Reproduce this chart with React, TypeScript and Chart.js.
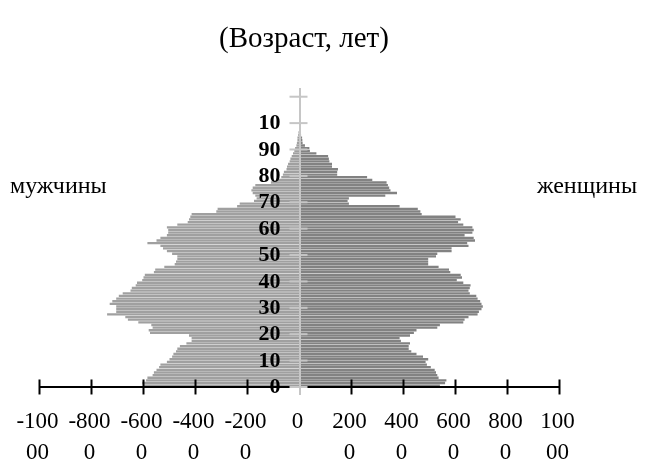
import { useEffect, useRef } from "react";
import { Chart, registerables } from "chart.js";

Chart.register(...registerables);

// возраст (лет), один бар на год
const ages = [
  0, 1, 2, 3, 4, 5, 6, 7, 8, 9, 10, 11, 12, 13, 14, 15, 16, 17, 18, 19, 20, 21,
  22, 23, 24, 25, 26, 27, 28, 29, 30, 31, 32, 33, 34, 35, 36, 37, 38, 39, 40, 41,
  42, 43, 44, 45, 46, 47, 48, 49, 50, 51, 52, 53, 54, 55, 56, 57, 58, 59, 60, 61,
  62, 63, 64, 65, 66, 67, 68, 69, 70, 71, 72, 73, 74, 75, 76, 77, 78, 79, 80, 81,
  82, 83, 84, 85, 86, 87, 88, 89, 90, 91, 92, 93, 94, 95, 96,
];

const maleValues = [
  -6000, -6050, -5900, -5850, -5650, -5600, -5500, -5400, -5350, -5100, -5000,
  -4900, -4850, -4750, -4700, -4600, -4350, -4150, -4150, -4250, -5750, -5800,
  -5650, -5700, -6200, -6600, -6700, -7400, -7050, -7050, -7050, -7300, -7200,
  -7050, -6950, -6800, -6500, -6450, -6300, -6250, -6050, -6000, -5950, -5600,
  -5550, -5200, -4800, -4750, -4700, -4700, -4900, -5100, -5250, -5350, -5850,
  -5500, -5350, -5100, -5050, -5050, -5100, -4700, -4300, -4250, -4200, -4150,
  -3200, -3150, -2400, -2300, -1750, -1650, -1700, -1800, -1850, -1800, -1700,
  -1100, -900, -700, -640, -600, -500, -480, -440, -380, -350, -300, -250, -200,
  -170, -120, -100, -80, -80, -50, -40,
];

const femaleValues = [
  5400, 5600, 5650, 5350, 5300, 5250, 5200, 5050, 4900, 4850, 4950, 4750, 4500,
  4300, 4200, 4200, 4250, 3900, 3850, 4250, 4400, 4500, 5300, 5400, 6300, 6350,
  6500, 6850, 6900, 7000, 7050, 7000, 6950, 6850, 6800, 6550, 6500, 6550, 6580,
  6300, 6050, 6250, 6200, 5800, 5750, 5350, 4950, 4950, 4950, 5250, 5300, 5850,
  5850, 6500, 6450, 6750, 6700, 6350, 6650, 6700, 6650, 6300, 6100, 6200, 6000,
  4700, 4650, 4550, 3850, 1900, 1850, 1900, 3300, 3750, 3500, 3450, 3400, 3350,
  2800, 2600, 1450, 1450, 1480, 1250, 1250, 1150, 1130, 1100, 650, 400, 380, 210,
  120, 110, 100, 60, 50,
];

const xTickValues = [
  -10000, -8000, -6000, -4000, -2000, 0, 2000, 4000, 6000, 8000, 10000,
];
const xTickLabels = [
  ["-100", "00"],
  ["-800", "0"],
  ["-600", "0"],
  ["-400", "0"],
  ["-200", "0"],
  ["0"],
  ["200", "0"],
  ["400", "0"],
  ["600", "0"],
  ["800", "0"],
  ["100", "00"],
];

const yTickValues = [0, 10, 20, 30, 40, 50, 60, 70, 80, 90, 100, 110];
const yTickLabels = ["0", "10", "20", "30", "40", "50", "60", "70", "80", "90", "10", ""];

const serif = "'Liberation Serif', 'Times New Roman', serif";
const axisGray = "#c6c6c6";

// метки делений рисуем сами: у осей они пересекают линию с обеих сторон
const pyramidMarks = {
  id: "pyramidMarks",
  afterDatasetsDraw(chart: any) {
    const { ctx } = chart;
    const xs = chart.scales.x;
    const y0 = chart.scales.y.getPixelForValue(0);
    ctx.save();
    ctx.strokeStyle = "#000";
    ctx.lineWidth = 2;
    xs.ticks.forEach((t: any) => {
      if (t.value === 0) return;
      const px = xs.getPixelForValue(t.value);
      ctx.beginPath();
      ctx.moveTo(px, y0 - 7.5);
      ctx.lineTo(px, y0 + 7.5);
      ctx.stroke();
    });
    ctx.restore();
  },
  afterDraw(chart: any) {
    const { ctx } = chart;
    const xs = chart.scales.x;
    const ys = chart.scales.y;
    const x0 = xs.getPixelForValue(0);
    const y0 = ys.getPixelForValue(0);
    ctx.save();
    ctx.strokeStyle = axisGray;
    ctx.lineWidth = 2;
    ys.ticks.forEach((t: any) => {
      const py = ys.getPixelForValue(t.value);
      ctx.beginPath();
      ctx.moveTo(x0 - 10, py);
      ctx.lineTo(x0 + 8, py);
      ctx.stroke();
    });

    ctx.fillStyle = "#000";
    ctx.textBaseline = "middle";

    // подписи возраста
    ctx.font = `bold 22px ${serif}`;
    ctx.textAlign = "right";
    ys.ticks.forEach((t: any, i: number) => {
      ctx.fillText(yTickLabels[i], x0 - 19, ys.getPixelForValue(t.value) + 0.5);
    });

    // подписи численности (в две строки)
    ctx.font = `23px ${serif}`;
    ctx.textAlign = "center";
    xs.ticks.forEach((t: any, i: number) => {
      const px = xs.getPixelForValue(t.value) - 2;
      xTickLabels[i].forEach((line, k) => {
        ctx.fillText(line, px, y0 + 35 + k * 31);
      });
    });

    ctx.font = `29px ${serif}`;
    ctx.fillText("(Возраст, лет)", 304, 39);

    const sideY = ys.getPixelForValue(76);
    ctx.font = `24px ${serif}`;
    ctx.textAlign = "left";
    ctx.fillText("мужчины", 10, sideY);
    ctx.textAlign = "right";
    ctx.fillText("женщины", 637, sideY);
    ctx.restore();
  },
};

export default function App() {
  const canvasRef = useRef<HTMLCanvasElement | null>(null);

  useEffect(() => {
    document.body.style.margin = "0";
    if (canvasRef.current == null) return;

    const chart = new Chart(canvasRef.current, {
      type: "bar",
      data: {
        datasets: [
          {
            label: "мужчины",
            data: ages.map((a, i) => ({ x: maleValues[i], y: a + 0.5 })),
            backgroundColor: "#a0a0a0",
            barPercentage: 0.88,
            categoryPercentage: 1,
          },
          {
            label: "женщины",
            data: ages.map((a, i) => ({ x: femaleValues[i], y: a + 0.5 })),
            backgroundColor: "#828282",
            barPercentage: 0.88,
            categoryPercentage: 1,
          },
        ],
      },
      options: {
        indexAxis: "y",
        responsive: true,
        maintainAspectRatio: false,
        animation: false,
        events: [],
        layout: {
          padding: { left: 39.5, right: 87.5, top: 88.8, bottom: 67.1 },
        },
        plugins: {
          legend: { display: false },
          tooltip: { enabled: false },
          title: { display: false },
        },
        scales: {
          x: {
            type: "linear",
            position: { y: 0 },
            min: -10000,
            max: 10000,
            stacked: true,
            afterBuildTicks: (scale: any) => {
              scale.ticks = xTickValues.map((v) => ({ value: v }));
            },
            grid: { display: true, drawOnChartArea: false, drawTicks: false },
            border: { display: true, color: "#000", width: 2, z: 1 },
            ticks: { display: false },
          },
          y: {
            type: "linear",
            position: { x: 0 },
            min: -3,
            max: 113,
            offset: false,
            stacked: true,
            afterBuildTicks: (scale: any) => {
              scale.ticks = yTickValues.map((v) => ({ value: v }));
            },
            grid: {
              display: true,
              offset: false,
              drawOnChartArea: false,
              drawTicks: false,
            },
            border: { display: true, color: axisGray, width: 2, z: 1 },
            ticks: { display: false },
          },
        },
      },
      plugins: [pyramidMarks],
    });

    return () => {
      chart.destroy();
    };
  }, []);

  return (
    <div style={{ width: 647, height: 462, position: "relative" }}>
      <canvas ref={canvasRef}></canvas>
    </div>
  );
}
